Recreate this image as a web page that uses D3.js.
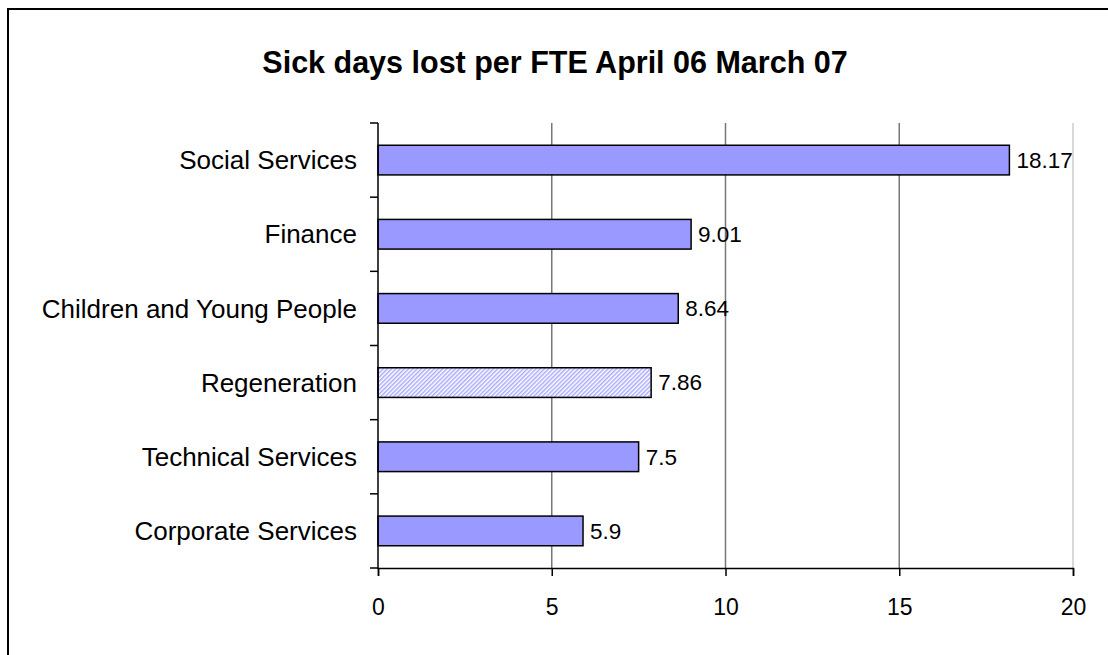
<!DOCTYPE html>
<html>
<head>
<meta charset="utf-8">
<script src="https://cdnjs.cloudflare.com/ajax/libs/d3/7.8.5/d3.min.js"></script>
<style>
  body { margin: 0; background: #fff; }
  text { font-family: Arial, "Liberation Sans", sans-serif; fill: #000; }
</style>
</head>
<body>
<div id="chart"></div>
<script>
// Chart data
const departments = ["Social Services", "Finance", "Children and Young People", "Regeneration", "Technical Services", "Corporate Services"];
const sickDays = [18.17, 9.01, 8.64, 7.86, 7.5, 5.9];
const hatched = ["Regeneration"];
const xTicks = [0, 5, 10, 15, 20];
const title = "Sick days lost per FTE April 06 March 07";

const width = 1108;
const height = 655;
const margin = { top: 123, right: 35, bottom: 87, left: 378 };

const svg = d3.select("#chart")
  .append("svg")
  .attr("width", width)
  .attr("height", height);

// hatch pattern for the highlighted bar
const defs = svg.append("defs");
const pattern = defs.append("pattern")
  .attr("id", "hatch")
  .attr("patternUnits", "userSpaceOnUse")
  .attr("width", 3)
  .attr("height", 3)
  .attr("patternTransform", "rotate(45)");
pattern.append("rect").attr("width", 3).attr("height", 3).attr("fill", "#fff");
pattern.append("rect").attr("width", 1.5).attr("height", 3).attr("fill", "#aaaaff");

// outer frame
svg.append("rect")
  .attr("x", 8)
  .attr("y", 9)
  .attr("width", width + 20)
  .attr("height", height + 20)
  .attr("fill", "none")
  .attr("stroke", "#000")
  .attr("stroke-width", 2);

const x = d3.scaleLinear()
  .domain([0, 20])
  .range([margin.left, width - margin.right]);

const y = d3.scaleBand()
  .domain(departments)
  .range([margin.top, height - margin.bottom])
  .paddingInner(0.6)
  .paddingOuter(0.3);

const bandStep = y.step();

// title
svg.append("text")
  .attr("x", 555)
  .attr("y", 73)
  .attr("text-anchor", "middle")
  .attr("font-size", "30.5px")
  .attr("font-weight", "bold")
  .text(title);

// gridlines
svg.append("g")
  .selectAll("line")
  .data(xTicks.slice(1))
  .enter()
  .append("line")
  .attr("x1", d => x(d))
  .attr("x2", d => x(d))
  .attr("y1", margin.top)
  .attr("y2", height - margin.bottom)
  .attr("stroke", d => d === 20 ? "#cccccc" : "#777")
  .attr("stroke-width", 1.5);

// bars
svg.append("g")
  .selectAll("rect")
  .data(departments)
  .enter()
  .append("rect")
  .attr("x", x(0))
  .attr("y", d => y(d))
  .attr("width", (d, i) => x(sickDays[i]) - x(0))
  .attr("height", y.bandwidth())
  .attr("fill", d => hatched.includes(d) ? "url(#hatch)" : "#9999ff")
  .attr("stroke", "#000")
  .attr("stroke-width", 1.5);

// value labels
svg.append("g")
  .selectAll("text")
  .data(departments)
  .enter()
  .append("text")
  .attr("x", (d, i) => x(sickDays[i]) + 7)
  .attr("y", d => y(d) + y.bandwidth() / 2)
  .attr("dy", "0.35em")
  .attr("font-size", "22.5px")
  .text((d, i) => sickDays[i]);

// y axis
const yAxis = svg.append("g");
yAxis.append("line")
  .attr("x1", x(0)).attr("x2", x(0))
  .attr("y1", margin.top).attr("y2", height - margin.bottom + 1)
  .attr("stroke", "#000").attr("stroke-width", 1.5);
const boundaries = d3.range(departments.length + 1).map(i => margin.top + i * bandStep);
yAxis.selectAll(".tick")
  .data(boundaries)
  .enter()
  .append("line")
  .attr("x1", x(0) - 8).attr("x2", x(0))
  .attr("y1", d => d).attr("y2", d => d)
  .attr("stroke", "#000").attr("stroke-width", 1.5);
yAxis.selectAll(".lbl")
  .data(departments)
  .enter()
  .append("text")
  .attr("x", x(0) - 21)
  .attr("y", d => y(d) + y.bandwidth() / 2)
  .attr("dy", "0.35em")
  .attr("text-anchor", "end")
  .attr("font-size", "26px")
  .text(d => d);

// x axis
const xAxis = svg.append("g")
  .attr("transform", `translate(0,${height - margin.bottom})`)
  .call(d3.axisBottom(x).tickValues(xTicks).tickSize(8).tickPadding(23).tickFormat(d3.format("d")));
xAxis.select(".domain").attr("stroke", "#000").attr("stroke-width", 1.5);
xAxis.selectAll(".tick line").attr("stroke", "#000").attr("stroke-width", 1.5);
xAxis.selectAll(".tick text")
  .attr("font-size", "23px")
  .attr("font-family", "Arial, 'Liberation Sans', sans-serif")
  .attr("fill", "#000");
</script>
</body>
</html>
